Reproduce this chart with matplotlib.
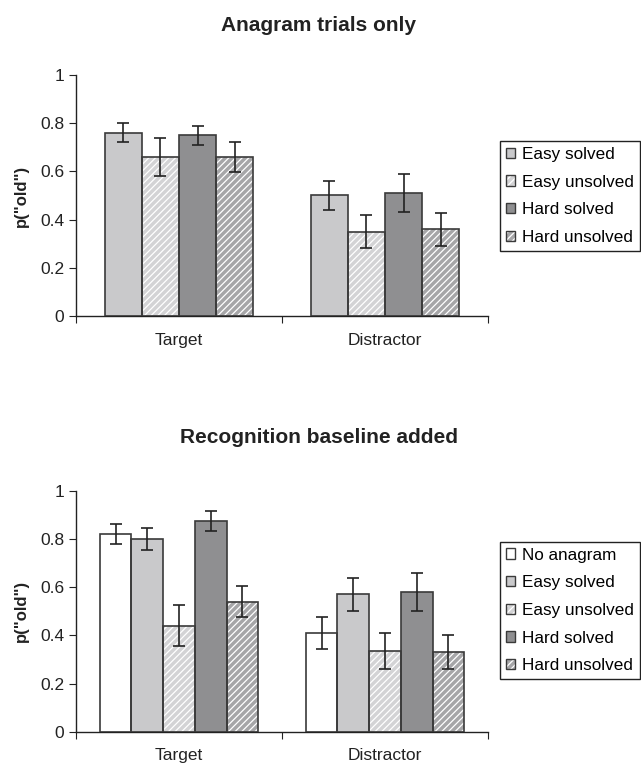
import matplotlib

matplotlib.use("Agg")

import matplotlib.pyplot as plt
import numpy as np
from matplotlib.patches import Patch

plt.rcParams["font.family"] = ["Liberation Sans", "DejaVu Sans"]
plt.rcParams["hatch.linewidth"] = 0.9

categories = ["Target", "Distractor"]

# top panel: anagram trials only
top_series = ["Easy solved", "Easy unsolved", "Hard solved", "Hard unsolved"]
top_values = [
    [0.76, 0.50],
    [0.66, 0.35],
    [0.75, 0.51],
    [0.66, 0.36],
]
top_errors = [
    [0.04, 0.062],
    [0.08, 0.068],
    [0.04, 0.077],
    [0.062, 0.068],
]

# bottom panel: recognition baseline added
bottom_series = ["No anagram", "Easy solved", "Easy unsolved", "Hard solved", "Hard unsolved"]
bottom_values = [
    [0.82, 0.41],
    [0.80, 0.57],
    [0.44, 0.335],
    [0.875, 0.58],
    [0.54, 0.33],
]
bottom_errors = [
    [0.04, 0.068],
    [0.047, 0.068],
    [0.085, 0.075],
    [0.043, 0.08],
    [0.065, 0.071],
]

STYLE = {
    "No anagram": ("#ffffff", None),
    "Easy solved": ("#c9c9cb", None),
    "Easy unsolved": ("#d3d3d5", "/////"),
    "Hard solved": ("#8f8f91", None),
    "Hard unsolved": ("#a6a6a8", "/////"),
}
EDGE = "#3a3a3a"
INK = "#222222"


def draw_panel(ax, series, values, errors, group_width):
    n = len(series)
    width = group_width / n
    x = np.arange(len(categories)) + 0.5
    handles = []
    for i, name in enumerate(series):
        face, hatch = STYLE[name]
        pos = x - group_width / 2 + width * (i + 0.5)
        # fill + white hatch first, then outline on top
        ax.bar(pos, values[i], width, color=face, edgecolor="white" if hatch else face,
               hatch=hatch, linewidth=0, zorder=2)
        ax.bar(pos, values[i], width, fill=False, edgecolor=EDGE, linewidth=1.2, zorder=3)
        ax.errorbar(pos, values[i], yerr=errors[i], fmt="none", ecolor=INK,
                    elinewidth=1.2, capsize=4.5, capthick=1.2, zorder=4)
        fill = Patch(facecolor=face, edgecolor="white" if hatch else face, hatch=hatch, linewidth=0)
        outline = Patch(fill=False, edgecolor=EDGE, linewidth=1.0)
        handles.append((fill, outline))

    ax.set_xlim(0, len(categories))
    ax.set_ylim(0, 1)
    ax.set_xticks(np.arange(len(categories) + 1))
    ax.set_xticklabels([])
    ax.set_xticks(x, minor=True)
    ax.set_xticklabels(categories, minor=True, fontsize=12.5, color=INK)
    ax.tick_params(axis="x", which="minor", length=0, pad=12)
    ax.tick_params(axis="x", which="major", length=5, direction="out", color=INK)
    ax.set_yticks([0, 0.2, 0.4, 0.6, 0.8, 1])
    ax.set_yticklabels(["0", "0.2", "0.4", "0.6", "0.8", "1"], fontsize=12.5, color=INK)
    ax.tick_params(axis="y", length=5, direction="out", color=INK)
    for side in ("top", "right"):
        ax.spines[side].set_visible(False)
    for side in ("left", "bottom"):
        ax.spines[side].set_color(INK)
        ax.spines[side].set_linewidth(1.0)
    ax.set_ylabel('p("old")', fontsize=12, fontweight="bold", color=INK, labelpad=8)
    return handles


def add_legend(handles, labels, y):
    fig.legend(handles, labels, loc="center left", bbox_to_anchor=(0.780, y),
               borderaxespad=0, fontsize=12.3, handlelength=0.55, handleheight=0.55,
               handletextpad=0.4, labelspacing=0.74, borderpad=0.35, frameon=True,
               fancybox=False, edgecolor=INK, framealpha=1)


fig = plt.figure(figsize=(6.41, 7.65), dpi=100)

ax_top = fig.add_axes([0.1186, 0.587, 0.6427, 0.315])
h_top = draw_panel(ax_top, top_series, top_values, top_errors, 0.72)
fig.text(0.497, 0.967, "Anagram trials only", ha="center", va="center",
         fontsize=15, fontweight="bold", color=INK)
add_legend(h_top, top_series, 0.744)

ax_bot = fig.add_axes([0.1186, 0.0435, 0.6427, 0.315])
h_bot = draw_panel(ax_bot, bottom_series, bottom_values, bottom_errors, 0.77)
fig.text(0.497, 0.428, "Recognition baseline added", ha="center", va="center",
         fontsize=15, fontweight="bold", color=INK)
add_legend(h_bot, bottom_series, 0.202)

fig.savefig("out.png", dpi=100)
